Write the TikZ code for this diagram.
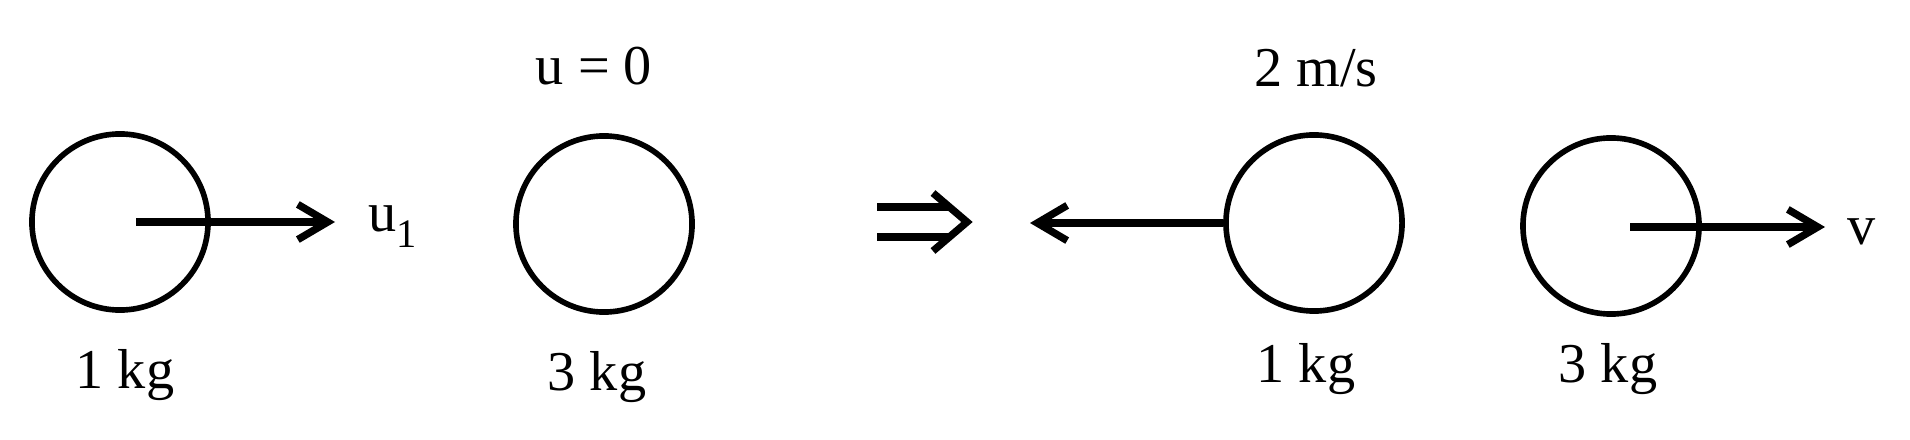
\documentclass[tikz,border=0pt]{standalone}
\usepackage{fontspec}
\setmainfont{Liberation Serif}
\usetikzlibrary{arrows.meta}

\tikzset{ball/.style={circle, draw, line width=1.6pt, minimum size=1.76cm, inner sep=0pt}}
\tikzset{vel/.style={line width=2.1pt, -{Straight Barb[length=8.5pt,width=10pt]}}}
\tikzset{lbl/.style={inner sep=0pt, anchor=base, font=\fontsize{16pt}{19pt}\selectfont}}

\begin{document}
\begin{tikzpicture}[x=0.01cm, y=-0.01cm]
  \useasboundingbox (0,0) rectangle (1910,440);

  % before the collision
  \node[ball] (m1) at (120,222) {};
  \node[ball] (m2) at (604,224) {};
  \coordinate (u1tip) at (335,222);
  \draw[vel] (m1.center) ++(16,0) -- (u1tip);
  \node[lbl, anchor=base west] (u1) at (368,232)
    {u\raisebox{-4.3pt}{\fontsize{11.5pt}{12pt}\selectfont 1}};
  \node[lbl] (u0) at (594,85) {u = 0};
  \node[lbl] (m1kg) at (125,389) {1 kg};
  \node[lbl] (m2kg) at (597,390) {3 kg};

  % implies
  \coordinate (imp) at (967,222);
  \draw[line width=2.1pt] (877,207) -- (949,207) (877,237) -- (949,237);
  \draw[line width=2.1pt] (933,193) -- (imp) -- (933,251);

  % after the collision
  \node[ball] (m3) at (1314,223) {};
  \node[ball] (m4) at (1611,226) {};
  \coordinate (m3tip) at (1030,223);
  \coordinate (vtip) at (1825,227);
  \draw[vel] (m3.west) -- (m3tip);
  \draw[vel] (m4.center) ++(19,1) -- (vtip);
  \node[lbl] (ms) at (1316,87) {2 m/s};
  \node[lbl, anchor=base west] (v) at (1847,245) {v};
  \node[lbl] (m3kg) at (1306,382) {1 kg};
  \node[lbl] (m4kg) at (1608,383) {3 kg};
\end{tikzpicture}
\end{document}
